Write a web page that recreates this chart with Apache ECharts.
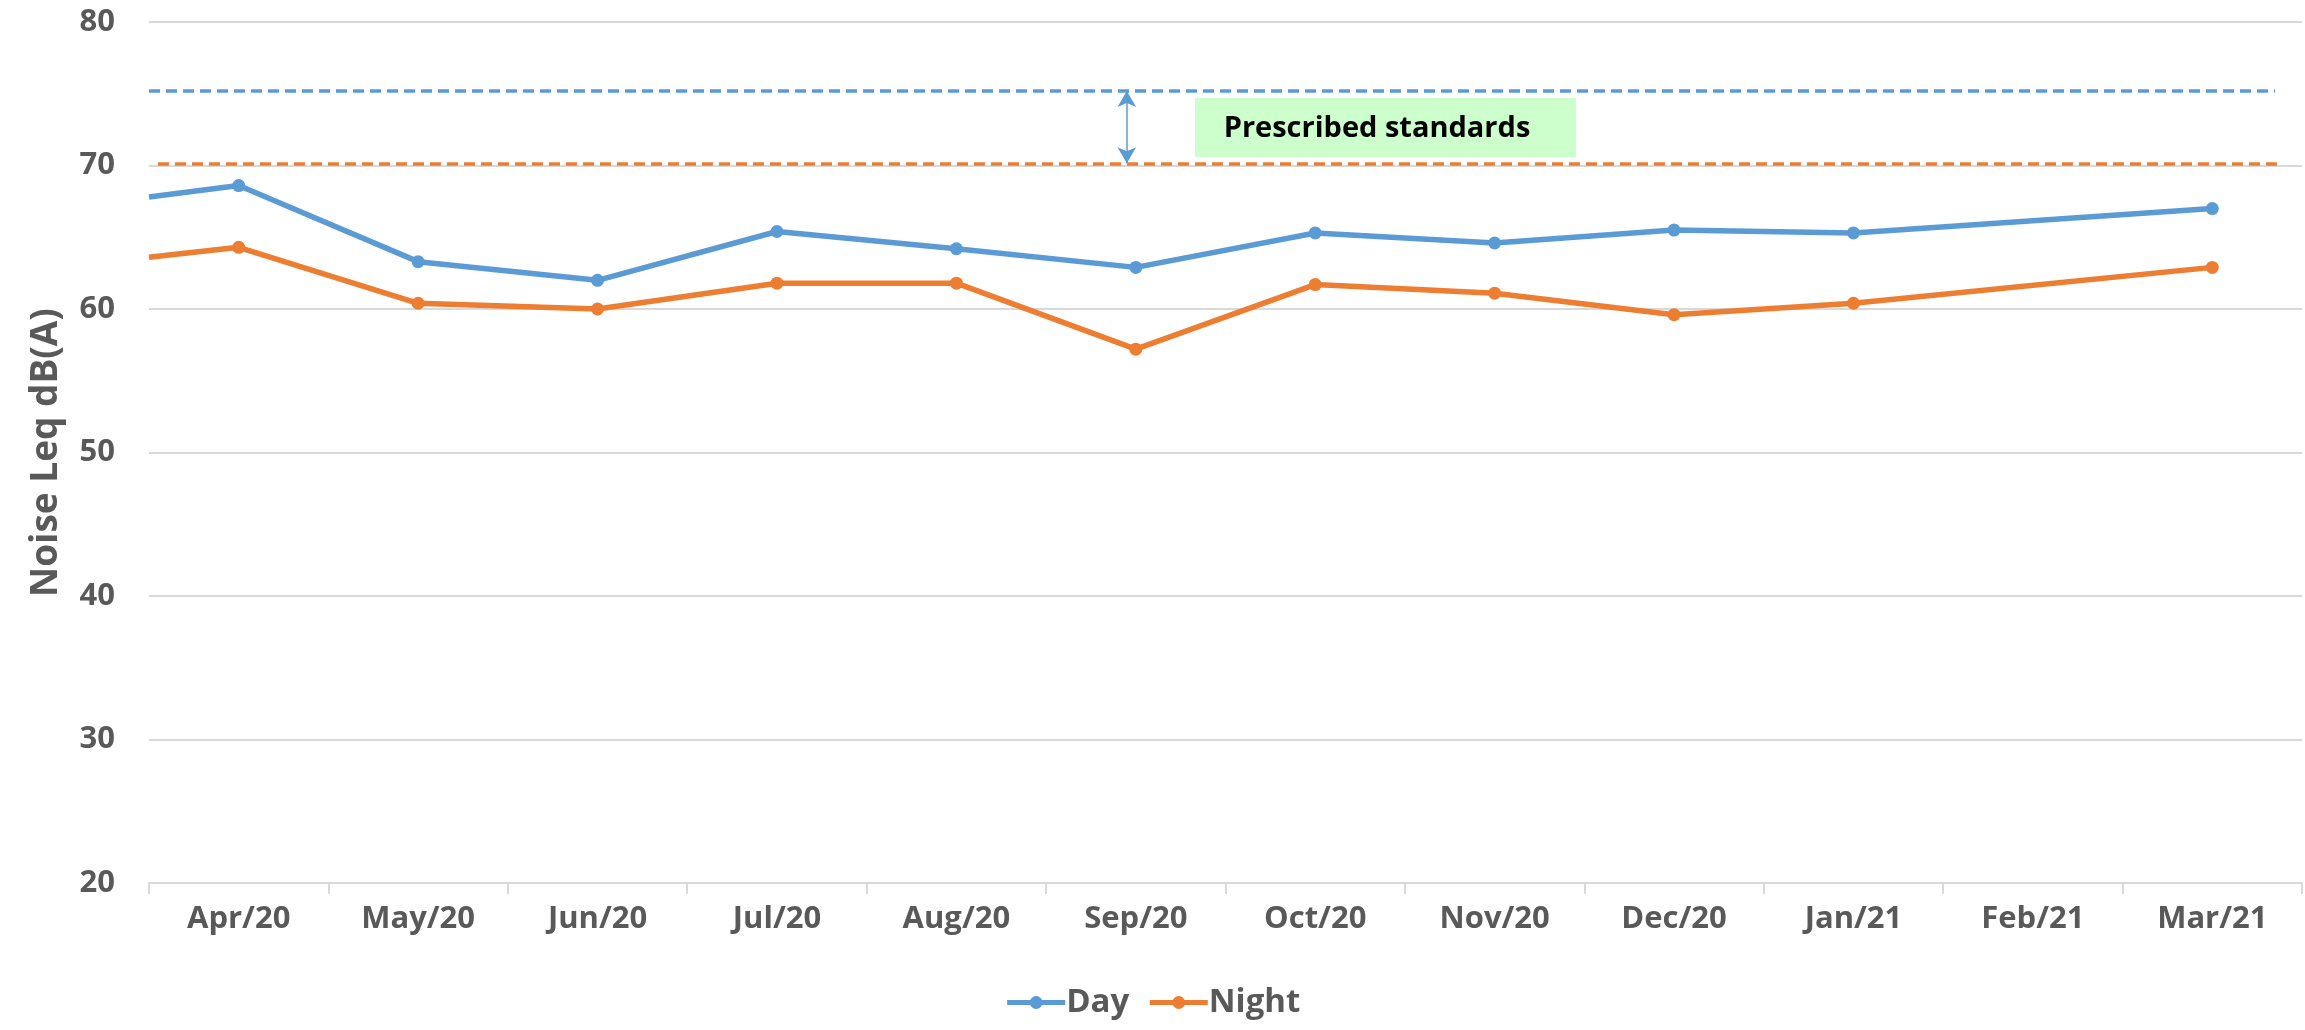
<!DOCTYPE html>
<html>
<head>
<meta charset="utf-8">
<script src="https://cdn.jsdelivr.net/npm/echarts@6/dist/echarts.min.js"></script>
<style>
html,body{margin:0;padding:0;background:#fff;}
#chart{width:2305px;height:1030px;}
</style>
</head>
<body>
<div id="chart"></div>
<script>
// ---- data ----
const categories = ['Apr/20','May/20','Jun/20','Jul/20','Aug/20','Sep/20','Oct/20','Nov/20','Dec/20','Jan/21','Feb/21','Mar/21'];
const dayValues   = [68.6, 63.3, 62.0, 65.4, 64.2, 62.9, 65.3, 64.6, 65.5, 65.3, null, 67.0];
const nightValues = [64.3, 60.4, 60.0, 61.8, 61.8, 57.2, 61.7, 61.1, 59.6, 60.4, null, 62.9];
// value where each line enters the plot at its left edge (line continues from before Apr/20)
const dayEdgeValue = 67.8;
const nightEdgeValue = 63.6;
const dayStandard = 75.2;
const nightStandard = 70.15;
const yMin = 20, yMax = 80, yStep = 10;
const seriesNames = ['Day', 'Night'];
const annotationText = 'Prescribed standards';
const yAxisTitle = 'Noise Leq dB(A)';

const BLUE = '#5B9BD5', ORANGE = '#ED7D31', GRAY = '#595959', GRID = '#D9D9D9';
const FONT = '"Open Sans", "Noto Sans", sans-serif';

function buildData(edge, vals) {
  const out = [{ value: [0, edge], symbol: 'none' }];
  vals.forEach((v, i) => { if (v !== null) out.push([i + 0.5, v]); });
  return out;
}

const chart = echarts.init(document.getElementById('chart'));
chart.setOption({
  animation: false,
  backgroundColor: '#fff',
  grid: { left: 149, right: 3, top: 22, bottom: 147, containLabel: false },
  xAxis: [
    {
      type: 'category', data: categories, boundaryGap: true,
      axisLine: { show: true, lineStyle: { color: GRID, width: 2 } },
      axisTick: { show: true, alignWithLabel: false, length: 11, lineStyle: { color: GRID, width: 2 } },
      axisLabel: { color: GRAY, fontSize: 31, fontWeight: 'bold', fontFamily: FONT, margin: 21 },
      splitLine: { show: false }
    },
    { type: 'value', min: 0, max: 12, show: false }
  ],
  yAxis: {
    type: 'value', min: yMin, max: yMax, interval: yStep,
    name: yAxisTitle, nameLocation: 'middle', nameGap: 84,
    nameTextStyle: { color: GRAY, fontSize: 37, fontWeight: 'bold', fontFamily: FONT },
    axisLine: { show: false }, axisTick: { show: false },
    axisLabel: { color: GRAY, fontSize: 31, fontWeight: 'bold', fontFamily: FONT, margin: 34 },
    splitLine: { lineStyle: { color: GRID, width: 2 } }
  },
  legend: {
    data: seriesNames, bottom: 6, left: 'center',
    itemWidth: 58, itemHeight: 16, itemGap: 18,
    lineStyle: { width: 5 },
    textStyle: { color: GRAY, fontSize: 33, fontWeight: 'bold', fontFamily: FONT, padding: [0,0,0,-4] }
  },
  series: [
    {
      name: seriesNames[0], type: 'line', xAxisIndex: 1,
      data: buildData(dayEdgeValue, dayValues),
      symbol: 'circle', symbolSize: 13,
      lineStyle: { color: BLUE, width: 5.5 }, itemStyle: { color: BLUE },
      z: 3,
      markLine: {
        silent: true, animation: false, label: { show: false },
        data: [
          [{ coord: [0, dayStandard], symbol: 'none', lineStyle: { type: [11, 6], width: 3.5, color: BLUE } },
           { coord: [11.85, dayStandard], symbol: 'none' }],
          [{ coord: [5.45, dayStandard], symbol: 'arrow', symbolSize: [14, 16], lineStyle: { type: 'solid', width: 1.5, color: BLUE } },
           { coord: [5.45, nightStandard], symbol: 'arrow', symbolSize: [14, 16] }]
        ]
      }
    },
    {
      name: seriesNames[1], type: 'line', xAxisIndex: 1,
      data: buildData(nightEdgeValue, nightValues),
      symbol: 'circle', symbolSize: 13,
      lineStyle: { color: ORANGE, width: 5.5 }, itemStyle: { color: ORANGE },
      z: 3,
      markLine: {
        silent: true, animation: false, label: { show: false }, symbol: 'none',
        data: [
          [{ coord: [0.05, nightStandard], lineStyle: { type: [11, 6], width: 3.5, color: ORANGE } },
           { coord: [11.89, nightStandard] }]
        ]
      }
    }
  ],
  graphic: [
    {
      type: 'group', left: 1195, top: 98,
      children: [
        { type: 'rect', shape: { x: 0, y: 0, width: 381, height: 59 }, style: { fill: '#CCFFCC' } },
        { type: 'text', x: 182, y: 31, style: { text: annotationText, fill: '#000', font: 'bold 29px ' + FONT, align: 'center', verticalAlign: 'middle' } }
      ]
    }
  ]
});
</script>
</body>
</html>
